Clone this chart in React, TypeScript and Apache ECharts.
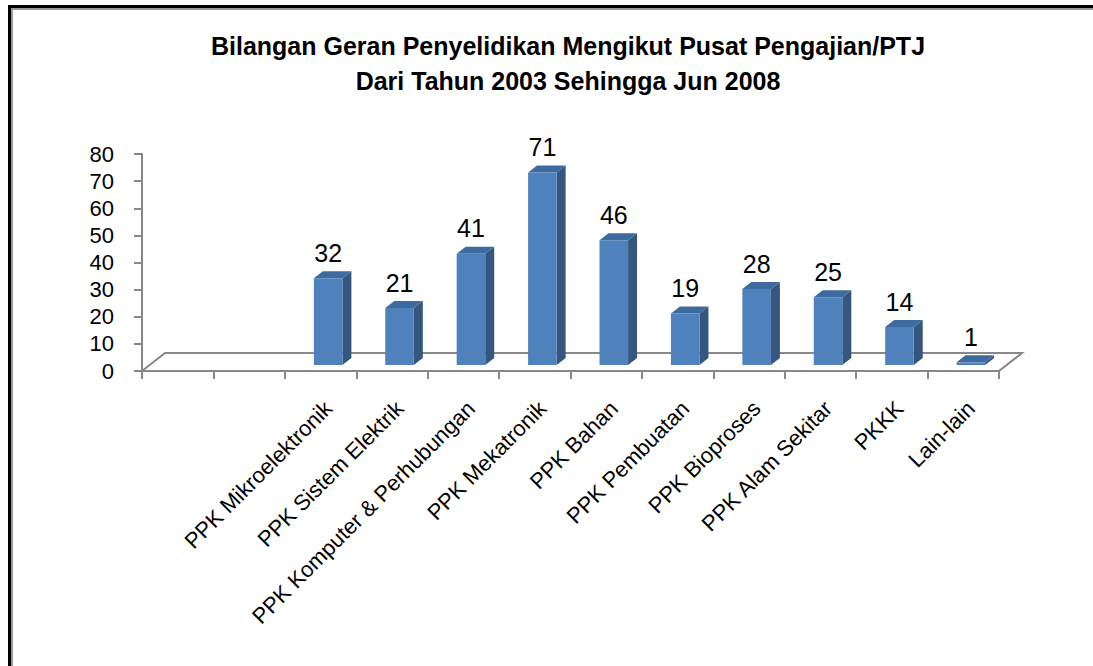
import React, { useEffect, useRef } from "react";
import * as echarts from "echarts";

const titleLines = [
  "Bilangan Geran Penyelidikan Mengikut Pusat Pengajian/PTJ",
  "Dari Tahun 2003 Sehingga Jun 2008",
];

const categories = [
  "",
  "",
  "PPK Mikroelektronik",
  "PPK Sistem Elektrik",
  "PPK Komputer & Perhubungan",
  "PPK Mekatronik",
  "PPK Bahan",
  "PPK Pembuatan",
  "PPK Bioproses",
  "PPK Alam Sekitar",
  "PKKK",
  "Lain-lain",
];

const values: (number | null)[] = [null, null, 32, 21, 41, 71, 46, 19, 28, 25, 14, 1];

const yMin = 0;
const yMax = 80;
const yStep = 10;

// 3D styling constants
const FLOOR_DX = 23;
const FLOOR_DY = 18;
const BAR_F0 = 0.33;
const BAR_F1 = 0.72;
const BAR_W = 0.4;
const AXIS_GRAY = "#888888";
const FRONT = "#4f81bd";
const SIDE = "#34567f";
const TOP = "#3e6b9f";

export default function App() {
  const ref = useRef<HTMLDivElement>(null);

  useEffect(() => {
    document.body.style.margin = "0";
    if (!ref.current) return;
    const chart = echarts.init(ref.current, undefined, { renderer: "svg" });

    const barData = values
      .map((v, i) => [i, v])
      .filter((d) => d[1] !== null);

    const option: any = {
      animation: false,
      backgroundColor: "#ffffff",
      title: {
        text: titleLines.join("\n"),
        left: 563,
        top: 23,
        textAlign: "center",
        textStyle: {
          fontFamily: "'Liberation Sans', Arial, sans-serif",
          fontWeight: "bold",
          fontSize: 25,
          lineHeight: 35,
          color: "#000000",
        },
      },
      graphic: [
        { type: "rect", shape: { x: 8, y: 5, width: 1085, height: 3 }, style: { fill: "#000" } },
        { type: "rect", shape: { x: 8, y: 5, width: 3, height: 661 }, style: { fill: "#000" } },
        { type: "rect", shape: { x: 11, y: 8, width: 1082, height: 2 }, style: { fill: "#999" } },
        { type: "rect", shape: { x: 11, y: 8, width: 2, height: 658 }, style: { fill: "#999" } },
      ],
      grid: { left: 142, right: 94, top: 154, bottom: 295, containLabel: false },
      xAxis: {
        type: "category",
        data: categories,
        boundaryGap: true,
        axisLine: { lineStyle: { color: AXIS_GRAY, width: 2 } },
        axisTick: { show: true, length: 8, lineStyle: { color: AXIS_GRAY, width: 2 } },
        axisLabel: {
          interval: 0,
          rotate: 45,
          margin: 26,
          align: "right",
          verticalAlign: "top",
          fontSize: 22,
          fontFamily: "'Liberation Sans', Arial, sans-serif",
          color: "#000",
        },
      },
      yAxis: {
        type: "value",
        min: yMin,
        max: yMax,
        interval: yStep,
        splitLine: { show: false },
        axisLine: { show: true, lineStyle: { color: AXIS_GRAY, width: 2 } },
        axisTick: { show: true, length: 8, lineStyle: { color: AXIS_GRAY, width: 2 } },
        axisLabel: {
          margin: 28,
          fontSize: 22,
          fontFamily: "'Liberation Sans', Arial, sans-serif",
          color: "#000",
        },
      },
      series: [
        {
          type: "custom",
          name: "floor",
          data: [[0, 0]],
          z: 1,
          renderItem: (params: any, api: any) => {
            const bw = api.size([1, 0])[0];
            const a = api.coord([0, 0]);
            const b = api.coord([categories.length - 1, 0]);
            const left = a[0] - bw / 2;
            const right = b[0] + bw / 2;
            const y0 = a[1];
            return {
              type: "polyline",
              shape: {
                points: [
                  [left, y0],
                  [left + FLOOR_DX, y0 - FLOOR_DY],
                  [right + FLOOR_DX, y0 - FLOOR_DY],
                  [right, y0],
                ],
              },
              style: { stroke: AXIS_GRAY, lineWidth: 2, fill: "none" },
            };
          },
        },
        {
          type: "custom",
          name: "Bilangan",
          data: barData,
          z: 3,
          renderItem: (params: any, api: any) => {
            const idx = api.value(0);
            const val = api.value(1);
            const bw = api.size([1, 0])[0];
            const p0 = api.coord([idx, 0]);
            const p1 = api.coord([idx, val]);
            const fw = bw * BAR_W;
            const cx = p0[0] + BAR_F0 * FLOOR_DX;
            const yb = p0[1] - BAR_F0 * FLOOR_DY;
            const yt = p1[1] - BAR_F0 * FLOOR_DY;
            const dx = (BAR_F1 - BAR_F0) * FLOOR_DX;
            const dy = (BAR_F1 - BAR_F0) * FLOOR_DY;
            const xl = cx - fw / 2;
            const xr = cx + fw / 2;
            return {
              type: "group",
              children: [
                {
                  type: "polygon",
                  shape: { points: [[xr, yt], [xr + dx, yt - dy], [xr + dx, yb - dy], [xr, yb]] },
                  style: { fill: SIDE },
                },
                {
                  type: "polygon",
                  shape: { points: [[xl, yt], [xl + dx, yt - dy], [xr + dx, yt - dy], [xr, yt]] },
                  style: { fill: TOP },
                },
                {
                  type: "rect",
                  shape: { x: xl, y: yt, width: fw, height: Math.max(0, yb - yt) },
                  style: { fill: FRONT },
                },
                {
                  type: "text",
                  x: cx,
                  y: yt - dy - 6,
                  style: {
                    text: String(val),
                    fontSize: 25,
                    fontFamily: "'Liberation Sans', Arial, sans-serif",
                    fill: "#000",
                    align: "center",
                    verticalAlign: "bottom",
                  },
                },
              ],
            };
          },
        },
      ],
    };

    chart.setOption(option);
    return () => chart.dispose();
  }, []);

  return <div ref={ref} style={{ width: 1093, height: 666 }} />;
}
